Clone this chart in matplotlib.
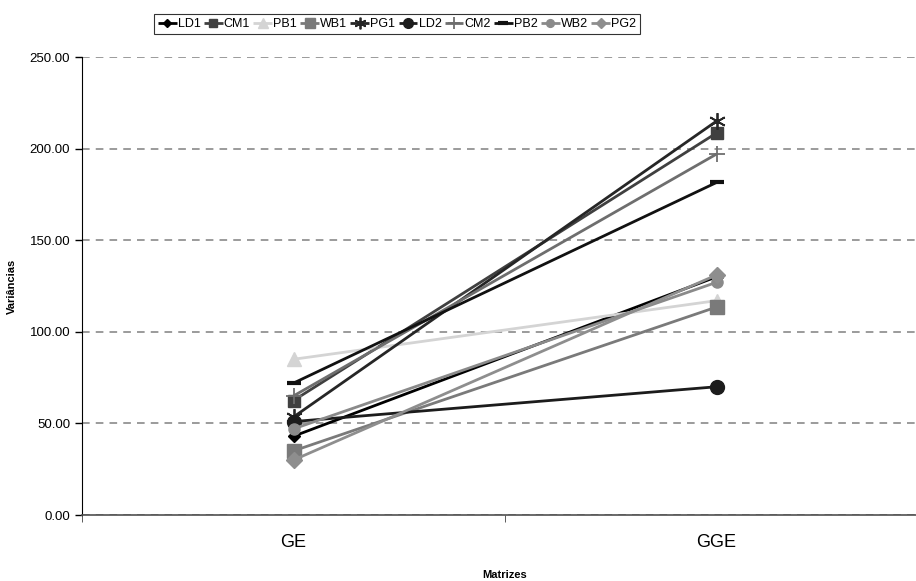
import matplotlib
matplotlib.use("Agg")
import matplotlib.pyplot as plt
from matplotlib.ticker import FixedLocator
from matplotlib import font_manager

plt.rcParams['font.family'] = ['Liberation Sans', 'DejaVu Sans']

categories = ["GE", "GGE"]
series_names = ["LD1", "CM1", "PB1", "WB1", "PG1", "LD2", "CM2", "PB2", "WB2", "PG2"]
LD1 = [43, 130]
CM1 = [62.5, 208.5]
PB1 = [85, 117]
WB1 = [35, 113.5]
PG1 = [53.5, 215]
LD2 = [51, 70]
CM2 = [65, 197]
PB2 = [72, 181.5]
WB2 = [47, 127]
PG2 = [30, 131]
values = [LD1, CM1, PB1, WB1, PG1, LD2, CM2, PB2, WB2, PG2]
yticks = [0, 50, 100, 150, 200, 250]

styles = {
    "LD1": dict(color="#000000", marker="D", ms=6),
    "CM1": dict(color="#404040", marker="s", ms=9),
    "PB1": dict(color="#d4d4d4", marker="^", ms=10),
    "WB1": dict(color="#7a7a7a", marker="s", ms=10),
    "PG1": dict(color="#262626", marker=(6, 2, 0), ms=12, mew=1.3),
    "LD2": dict(color="#1c1c1c", marker="o", ms=10),
    "CM2": dict(color="#6e6e6e", marker="+", ms=12, mew=1.3),
    "PB2": dict(color="#111111", marker="_", ms=10, mew=3),
    "WB2": dict(color="#8a8a8a", marker="o", ms=8),
    "PG2": dict(color="#8e8e8e", marker="D", ms=8),
}

fig = plt.figure(figsize=(9.16, 5.81), dpi=100)
ax = fig.add_axes([82/916, 1-515/581, 846/916, 458/581])

x = list(range(len(categories)))
for name, vals in zip(series_names, values):
    st = styles[name]
    ax.plot(x, vals, color=st["color"], lw=2.0, marker=st["marker"],
            markersize=st["ms"], markerfacecolor=st["color"],
            markeredgecolor=st["color"], markeredgewidth=st.get("mew", 1.0),
            label=name, solid_capstyle="butt")

ax.set_xlim(-0.5, 1.5)
ax.set_ylim(0, 250)
ax.set_yticks(yticks)
ax.set_yticklabels([f"{v:.2f}" for v in yticks], fontsize=9.5)
ax.yaxis.grid(True, linestyle=(0, (5, 4)), color="#808080", lw=1.1)
ax.set_axisbelow(True)

ax.set_xticks(x)
ax.set_xticklabels(categories, fontsize=13)
ax.tick_params(axis="x", which="major", length=0, pad=14)
ax.xaxis.set_minor_locator(FixedLocator([-0.5, 0.5, 1.5]))
ax.tick_params(axis="x", which="minor", length=5, color="#404040")
ax.tick_params(axis="y", length=5, direction="out", width=1)

for s in ["top", "right"]:
    ax.spines[s].set_visible(False)
ax.spines["left"].set_color("#000000")
ax.spines["bottom"].set_color("#505050")
ax.spines["bottom"].set_linewidth(1.2)

ax.set_ylabel("Variâncias", fontsize=8, fontweight="bold")
ax.yaxis.set_label_coords(-(82-17)/846, 0.5)
ax.set_xlabel("Matrizes", fontsize=8, fontweight="bold")
ax.xaxis.set_label_coords((505-82)/846, -(570-515)/458)

names = {f.name for f in font_manager.fontManager.ttflist}
if "Liberation Sans Narrow" in names:
    leg_prop = font_manager.FontProperties(family="Liberation Sans Narrow", size=10.5)
    hl, cs = 1.7, 0.5
else:
    leg_prop = font_manager.FontProperties(family="Liberation Sans", size=9)
    hl, cs = 1.5, 0.25

handles, labels = ax.get_legend_handles_labels()
leg = fig.legend(handles, labels, ncol=10, loc="center",
                 bbox_to_anchor=(397/916, 1-24/581), prop=leg_prop,
                 handlelength=hl, handletextpad=0.1, columnspacing=cs,
                 frameon=True, fancybox=False, borderpad=0.3,
                 borderaxespad=0.2, markerscale=0.7)
leg.get_frame().set_edgecolor("#000000")
leg.get_frame().set_linewidth(0.8)

fig.savefig("out.png", dpi=100)
